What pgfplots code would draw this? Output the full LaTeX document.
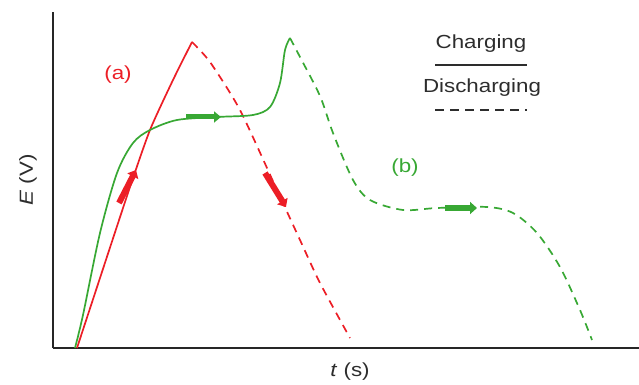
\documentclass[border=0pt]{standalone}
\usepackage{pgfplots}
\pgfplotsset{compat=1.18}
\usetikzlibrary{arrows.meta}
\usepackage{fontspec}
\setmainfont{Liberation Sans}[FakeStretch=1.18]
\definecolor{cred}{RGB}{236,30,38}
\definecolor{cgreen}{RGB}{56,168,52}
\definecolor{txt}{RGB}{45,45,45}
\begin{document}
\begin{tikzpicture}
\path[use as bounding box] (-53bp,-37bp) rectangle (586bp,348bp);
\begin{axis}[
  scale only axis, width=586bp, height=336bp,
  xmin=53, xmax=639, ymin=0, ymax=336,
  axis x line=bottom, axis y line=left,
  axis line style={-, line width=2.8bp, black!85},
  xtick=\empty, ytick=\empty,
  clip=false,
  every axis plot/.append style={line width=1.7bp},
]
% (a) red charging
\addplot[cred, smooth, tension=0.4] coordinates {(77,0) (100,70) (130,161) (150,218) (173,268) (192,306)};
% (a) red discharging
\addplot[cred, dash pattern=on 8bp off 6bp, smooth, tension=0.4] coordinates {(192,306) (210,286) (240,238) (277,158) (300,108) (320,65) (350,10)};
% (b) green charging
\addplot[cgreen, smooth, tension=0.5] coordinates {(75,0) (83,33) (100,115) (117,175) (133,205) (150,218) (177,228) (217,231) (253,233) (270,241) (280,265) (285,298) (290,310)};
% (b) green discharging
\addplot[cgreen, dash pattern=on 8bp off 6bp, smooth, tension=0.5] coordinates {(290,310) (300,291) (320,252) (333,215) (353,168) (370,148) (403,138) (437,140) (487,141) (513,135) (537,115) (560,81) (580,38) (592,8)};
% arrows
\addplot[cred, line width=6bp, -{Triangle[length=7bp,width=12bp]}] coordinates {(119,145) (136,178)};
\addplot[cred, line width=6bp, -{Triangle[length=7bp,width=12bp]}] coordinates {(265,175) (286,141)};
\addplot[cgreen, line width=5bp, -{Triangle[length=7bp,width=11bp]}] coordinates {(186,231) (221,231)};
\addplot[cgreen, line width=6bp, -{Triangle[length=7bp,width=12bp]}] coordinates {(445,140) (477,140)};
% labels
\node[cred, font=\fontsize{19}{22}\selectfont] at (axis cs:118,273) {(a)};
\node[cgreen, font=\fontsize{19}{22}\selectfont] at (axis cs:405,180) {(b)};
\node[txt, font=\fontsize{19}{22}\selectfont] at (axis cs:481,304) {Charging};
\draw[txt, line width=1.6bp] (axis cs:435,283) -- (axis cs:527,283);
\node[txt, font=\fontsize{19}{22}\selectfont] at (axis cs:482,260) {Discharging};
\draw[txt, line width=1.8bp, dash pattern=on 9bp off 6bp] (axis cs:435,238) -- (axis cs:527,238);
\node[txt, font=\fontsize{19}{22}\selectfont] at (axis cs:350,-24) {\textit{t} (s)};
\node[txt, font=\fontsize{19}{22}\selectfont, rotate=90] at (axis cs:28,168) {\textit{E} (V)};
\end{axis}
\end{tikzpicture}
\end{document}
